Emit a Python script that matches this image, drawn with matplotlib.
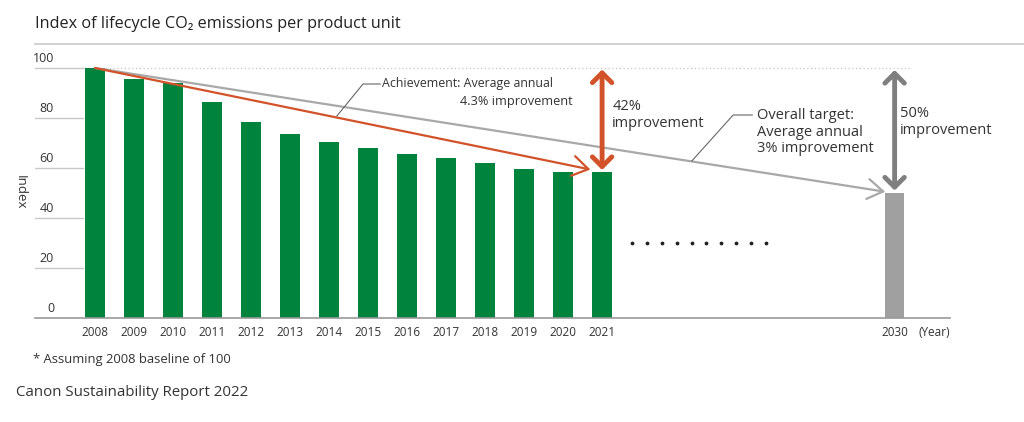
import matplotlib
matplotlib.use("Agg")
import matplotlib.pyplot as plt
from matplotlib.lines import Line2D
import numpy as np

plt.rcParams['font.family'] = ['Open Sans', 'DejaVu Sans']

# ---- data ----
years = ["2008", "2009", "2010", "2011", "2012", "2013", "2014",
         "2015", "2016", "2017", "2018", "2019", "2020", "2021"]
values = [100, 95.5, 93.9, 86.5, 78.3, 73.6, 70.3,
          67.9, 65.7, 63.9, 62.1, 59.7, 58.4, 58.4]
target_year = "2030"
target_value = 50
yticks = [0, 20, 40, 60, 80, 100]

# ---- layout / style ----
W, H = 1024, 422
green = "#00843D"
bar_gray = "#A0A0A0"
orange = "#D2522A"
line_gray = "#A8A8A8"
arrow_gray = "#7F7F7F"
text_col = "#333333"
grid_col = "#C8C8C8"

pos = list(range(len(years)))
target_pos = 20.5

fig = plt.figure(figsize=(W / 100, H / 100), dpi=100)
ax = fig.add_axes([35 / W, (H - 318) / H, (950 - 35) / W, (318 - 43) / H])
ax.set_xlim(-1.54, 21.92)
ax.set_ylim(0, 110)
ax.axis("off")

# gridline stubs and labels
for v in yticks:
    if v == 0:
        continue
    ax.plot([-1.54, -0.3], [v, v], color=grid_col, lw=1, zorder=1)
    ax.text(-1.05, v + 1.0, str(v), ha="right", va="bottom", fontsize=9, color=text_col)
ax.text(-1.05, 1.0, "0", ha="right", va="bottom", fontsize=9, color=text_col)
ax.plot([-0.3, 20.9], [100, 100], color=grid_col, lw=0.9, ls=(0, (1, 2)), zorder=1)

# baseline
ax.plot([-1.54, 21.92], [0, 0], color="#999999", lw=1.2, zorder=3, clip_on=False)

# bars
ax.bar(pos, values, width=0.5, color=green, zorder=2)
ax.bar([target_pos], [target_value], width=0.5, color=bar_gray, zorder=2)

# x tick labels
for p, y in zip(pos + [target_pos], years + [target_year]):
    ax.text(p, -6, y, ha="center", va="center", fontsize=8.5, color=text_col)
ax.text(21.1, -6, "(Year)", ha="left", va="center", fontsize=8.5, color=text_col)

# trend lines
ax.annotate("", xy=(20.26, 50.5), xytext=(0, 100),
            arrowprops=dict(arrowstyle="->,head_length=0.7,head_width=0.45",
                            color=line_gray, lw=1.6, mutation_scale=16,
                            shrinkA=0, shrinkB=0), zorder=4)
ax.annotate("", xy=(12.7, 59.4), xytext=(0, 100),
            arrowprops=dict(arrowstyle="->,head_length=0.7,head_width=0.45",
                            color=orange, lw=1.6, mutation_scale=16,
                            shrinkA=0, shrinkB=0), zorder=5)

# double arrows
ax.annotate("", xy=(13, 59.2), xytext=(13, 99.4),
            arrowprops=dict(arrowstyle="<->,head_length=0.35,head_width=0.35",
                            color=orange, lw=3.5, mutation_scale=20,
                            shrinkA=0, shrinkB=0), zorder=6)
ax.annotate("", xy=(20.5, 51), xytext=(20.5, 99.2),
            arrowprops=dict(arrowstyle="<->,head_length=0.35,head_width=0.35",
                            color=arrow_gray, lw=3.5, mutation_scale=20,
                            shrinkA=0, shrinkB=0), zorder=6)

# leader lines and annotation texts
ax.plot([6.2, 6.87, 7.31], [80.8, 93.6, 93.6], color="#666666", lw=0.8, zorder=6)
ax.text(7.35, 93.6, "Achievement: Average annual", ha="left", va="center",
        fontsize=8.9, color=text_col)
ax.text(9.36, 86.5, "4.3% improvement", ha="left", va="center",
        fontsize=9.2, color=text_col)
ax.text(13.26, 81.2, "42%\nimprovement", ha="left", va="center",
        fontsize=10.5, color=text_col, linespacing=1.15)

ax.plot([15.3, 16.36, 16.85], [62.8, 81.2, 81.2], color="#666666", lw=0.8, zorder=6)
ax.text(16.97, 74.4, "Overall target:\nAverage annual\n3% improvement", ha="left",
        va="center", fontsize=10.5, color=text_col, linespacing=1.1)
ax.text(20.64, 78.4, "50%\nimprovement", ha="left", va="center",
        fontsize=10.5, color=text_col, linespacing=1.15)

# ellipsis dots
ax.scatter(np.linspace(13.77, 17.2, 10), [30] * 10, s=3, color="#222222", zorder=6)

# figure texts
fig.text(35 / W, (H - 24) / H, "Index of lifecycle CO\u2082 emissions per product unit",
         ha="left", va="center", fontsize=11.7, color="#222222")
fig.add_artist(Line2D([35 / W, 1.0], [(H - 43.5) / H] * 2, color=grid_col, lw=1.2))
fig.text(20 / W, (H - 192) / H, "Index", rotation=-90, ha="center", va="center",
         fontsize=9.5, color=text_col)
fig.text(33 / W, (H - 359) / H, "* Assuming 2008 baseline of 100", ha="left",
         va="center", fontsize=9.4, color=text_col)
fig.text(16 / W, (H - 392) / H, "Canon Sustainability Report 2022", ha="left",
         va="center", fontsize=10.8, color=text_col)

fig.savefig("out.png", dpi=100, facecolor="white")
